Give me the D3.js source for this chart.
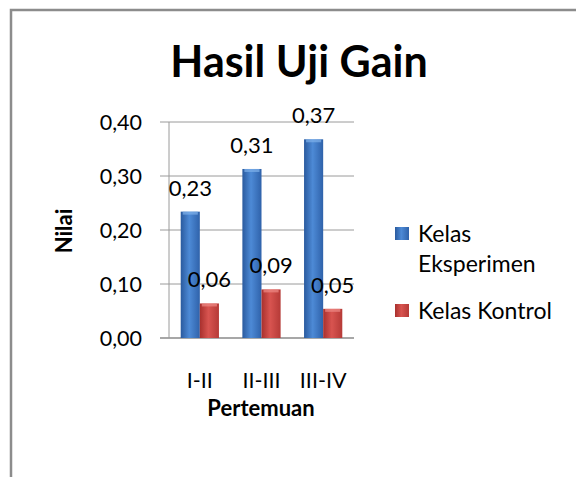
<!DOCTYPE html>
<html>
<head>
<meta charset="utf-8">
<script src="https://cdn.jsdelivr.net/npm/d3@7"></script>
<style>
  body { margin: 0; background: #fff; }
  text { font-family: Lato, "Open Sans", sans-serif; fill: #000; }
</style>
</head>
<body>
<svg id="chart"></svg>
<script>
const categories = ["I-II", "II-III", "III-IV"];
const seriesNames = ["Kelas Eksperimen", "Kelas Kontrol"];
const eksperimen = [0.234, 0.313, 0.368];
const kontrol = [0.064, 0.090, 0.054];
const yTicks = [0, 0.1, 0.2, 0.3, 0.4];

const w = 576;
const h = 477;

const svg = d3.select("#chart").attr("width", w).attr("height", h);

// outer frame (runs off the right and bottom edges)
svg.append("path")
  .attr("d", "M11,477 V10 H576")
  .attr("fill", "none")
  .attr("stroke", "#8c8c8c")
  .attr("stroke-width", 2.5);

const defs = svg.append("defs");
function grad(id, dark, mid, light) {
  const g = defs.append("linearGradient").attr("id", id)
    .attr("x1", "0%").attr("x2", "100%").attr("y1", "0%").attr("y2", "0%");
  g.append("stop").attr("offset", "0%").attr("stop-color", dark);
  g.append("stop").attr("offset", "45%").attr("stop-color", light);
  g.append("stop").attr("offset", "100%").attr("stop-color", mid);
}
grad("gBlue", "#2a5a9e", "#2f62aa", "#4d8ad6");
grad("gRed", "#a8302d", "#b53a37", "#d85450");

const plotLeft = 169, plotRight = 354, plotTop = 122, plotBottom = 338;

const x0 = d3.scaleBand().domain(categories).range([plotLeft, plotRight]).paddingInner(0.38).paddingOuter(0.19);
const x1 = d3.scaleBand().domain([0, 1]).range([0, x0.bandwidth()]);
const y = d3.scaleLinear().domain([0, 0.4]).range([plotBottom, plotTop]);

const fmt = (v) => d3.format(".2f")(v).replace(".", ",");

// gridlines
svg.append("g")
  .selectAll("line")
  .data(yTicks)
  .enter()
  .append("line")
  .attr("x1", plotLeft - 9)
  .attr("x2", plotRight)
  .attr("y1", (d) => y(d))
  .attr("y2", (d) => y(d))
  .attr("stroke", (d) => (d === 0 ? "#8a8a8a" : "#9a9a9a"))
  .attr("stroke-width", (d) => (d === 0 ? 1.5 : 1));

// y axis line
svg.append("line")
  .attr("x1", plotLeft).attr("x2", plotLeft)
  .attr("y1", plotTop).attr("y2", plotBottom)
  .attr("stroke", "#9a9a9a");

// y tick labels
svg.append("g")
  .selectAll("text")
  .data(yTicks)
  .enter()
  .append("text")
  .attr("x", 142)
  .attr("y", (d) => y(d))
  .attr("dy", "0.36em")
  .attr("text-anchor", "end")
  .attr("font-size", 21.5)
  .text((d) => fmt(d));

// bars
const series = [eksperimen, kontrol];
const fills = ["url(#gBlue)", "url(#gRed)"];
series.forEach((vals, s) => {
  const g = svg.append("g");
  g.selectAll("rect")
    .data(vals)
    .enter()
    .append("rect")
    .attr("x", (d, i) => x0(categories[i]) + x1(s))
    .attr("y", (d) => y(d))
    .attr("width", x1.bandwidth())
    .attr("height", (d) => y(0) - y(d))
    .attr("fill", fills[s]);
  // light cap at top
  g.selectAll(".cap")
    .data(vals)
    .enter()
    .append("rect")
    .attr("class", "cap")
    .attr("x", (d, i) => x0(categories[i]) + x1(s) + 2)
    .attr("y", (d) => y(d))
    .attr("width", x1.bandwidth() - 4)
    .attr("height", 3)
    .attr("fill", s === 0 ? "#7fb0ea" : "#ee8a86")
    .attr("opacity", 0.7);
  g.selectAll("text")
    .data(vals)
    .enter()
    .append("text")
    .attr("x", (d, i) => x0(categories[i]) + x1(s) + x1.bandwidth() / 2)
    .attr("y", (d) => y(d) - 16)
    .attr("text-anchor", "middle")
    .attr("font-size", 22)
    .text((d) => fmt(d));
});

// category labels
svg.append("g")
  .selectAll("text")
  .data(categories)
  .enter()
  .append("text")
  .attr("x", (d) => x0(d) + x0.bandwidth() / 2)
  .attr("y", 388)
  .attr("text-anchor", "middle")
  .attr("font-size", 21.5)
  .text((d) => d);

// titles
svg.append("text")
  .attr("x", 299).attr("y", 77)
  .attr("text-anchor", "middle")
  .attr("font-size", 43)
  .attr("font-weight", "bold")
  .text("Hasil Uji Gain");

svg.append("text")
  .attr("x", 261).attr("y", 416)
  .attr("text-anchor", "middle")
  .attr("font-size", 22)
  .attr("font-weight", "bold")
  .text("Pertemuan");

svg.append("text")
  .attr("transform", "translate(72,231) rotate(-90)")
  .attr("text-anchor", "middle")
  .attr("font-size", 22)
  .attr("font-weight", "bold")
  .text("Nilai");

// legend
const legend = svg.append("g");
const legendY = [234, 311];
seriesNames.forEach((name, i) => {
  legend.append("rect")
    .attr("x", 395).attr("y", legendY[i] - 7)
    .attr("width", 14).attr("height", 13)
    .attr("fill", fills[i]);
  const t = legend.append("text")
    .attr("x", 418).attr("y", legendY[i])
    .attr("dy", "0.36em")
    .attr("font-size", 23);
  if (i === 0) {
    t.append("tspan").attr("x", 418).text("Kelas");
    t.append("tspan").attr("x", 418).attr("dy", "1.3em").text("Eksperimen");
  } else {
    t.text(name);
  }
});
</script>
</body>
</html>
